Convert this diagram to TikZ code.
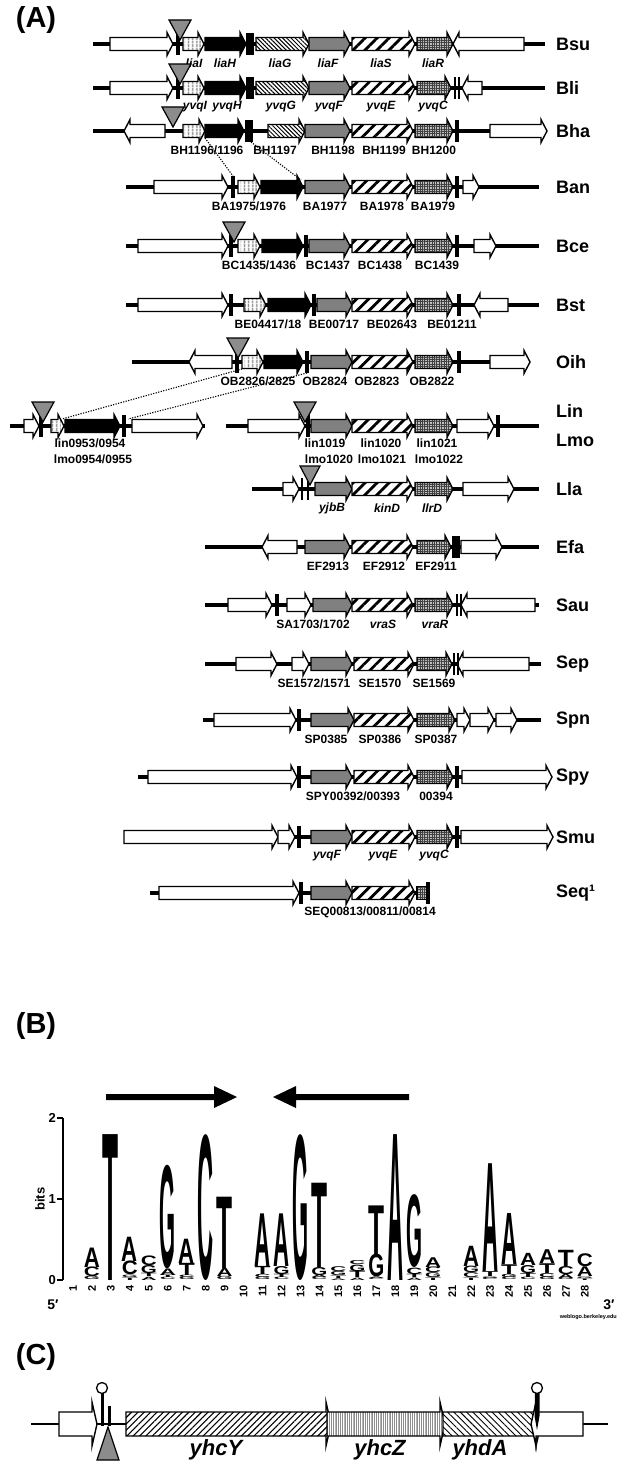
\documentclass[tikz,border=0pt]{standalone}
\usepackage{fontspec}
\setmainfont{Liberation Sans}
\usepackage{graphicx}
\usetikzlibrary{patterns.meta}

\newcounter{nd}
% gene arrow geometry: body half-height, head half-height, head length
\def\GB{6.5}\def\GH{11.5}\def\GL{6}

\newcommand\gR[4]{\path[gene,#4] (#1,{#3-\GB}) -- ({#2-\GL},{#3-\GB}) -- ({#2-\GL},{#3-\GH}) -- (#2,#3) -- ({#2-\GL},{#3+\GH}) -- ({#2-\GL},{#3+\GB}) -- (#1,{#3+\GB}) -- cycle;}
\newcommand\gL[4]{\path[gene,#4] (#2,{#3-\GB}) -- ({#1+\GL},{#3-\GB}) -- ({#1+\GL},{#3-\GH}) -- (#1,#3) -- ({#1+\GL},{#3+\GH}) -- ({#1+\GL},{#3+\GB}) -- (#2,{#3+\GB}) -- cycle;}
\newcommand\gB[4]{\path[gene,#4] (#1,{#3-\GB}) rectangle (#2,{#3+\GB});}
\newcommand\tbar[2]{\fill ({#1-1.6},{#2-11}) rectangle ({#1+1.6},{#2+11});}
\newcommand\tbarn[2]{\fill ({#1-1.1},{#2-11}) rectangle ({#1+1.1},{#2+11});}
\newcommand\tri[2]{\path[tri] ({#1-11},{#2-24}) -- ({#1+11},{#2-24}) -- (#1,{#2-4}) -- cycle;}
\newcommand\bb[3]{\draw[bbone] (#1,#3) -- (#2,#3);}
\newcommand\glab[3]{\stepcounter{nd}\node[glab] (t\arabic{nd}) at (#1,{#2+19}) {#3};}
\newcommand\glabi[3]{\stepcounter{nd}\node[glab,font=\fontsize{12}{14}\selectfont\bfseries\itshape] (t\arabic{nd}) at (#1,{#2+19}) {#3};}
\newcommand\spname[3]{\node[spl] (#1) at (556,#2) {#3};}

% sequence logo letters: position, bottom (bits), height (bits), letter
\def\ZB{1280}\def\BIT{81}
\newcommand\Lt[4]{%
  \pgfmathsetmacro\lx{73+18.96*(#1-1)}%
  \pgfmathsetmacro\ly{\ZB-\BIT*#2}%
  \pgfmathsetmacro\lh{\BIT*#3}%
  \stepcounter{nd}%
  \node[inner sep=0pt,outer sep=0pt,anchor=south] (lg\arabic{nd}) at (\lx,\ly) {\resizebox*{16pt}{\lh pt}{\bfseries #4}};}
\newcommand\Stk[2]{%
  \gdef\cum{0}%
  \foreach \ch/\hv in {#2}{%
    \Lt{#1}{\cum}{\hv}{\ch}%
    \pgfmathsetmacro\newcum{\cum+\hv}%
    \global\let\cum\newcum
  }}

\tikzset{
  gene/.style={draw=black,line width=1.4pt,line join=miter},
  gWht/.style={fill=white},
  gBlk/.style={fill=black},
  gGry/.style={fill=black!50},
  gStr/.style={preaction={fill=white},pattern={Lines[angle=90,distance=4pt,line width=1.5pt]},pattern color=black!55},
  gHat/.style={preaction={fill=white},pattern={Lines[angle=-45,distance=3pt,line width=1pt]},pattern color=black},
  gWid/.style={preaction={fill=white},pattern={Lines[angle=45,distance=8.5pt,line width=2.8pt]},pattern color=black},
  gDot/.style={preaction={fill=black!25},pattern={Hatch[distance=2.4pt,line width=0.8pt]},pattern color=black!75},
  cY/.style={preaction={fill=white},pattern={Lines[angle=45,distance=4.5pt,line width=1.1pt]},pattern color=black},
  cZ/.style={preaction={fill=white},pattern={Lines[angle=90,distance=1.8pt,line width=0.4pt]},pattern color=black!45},
  cA/.style={preaction={fill=white},pattern={Lines[angle=-45,distance=4.5pt,line width=0.9pt]},pattern color=black},
  tri/.style={draw=black,line width=1.2pt,fill=black!45,line join=miter},
  bbone/.style={line width=3.5pt},
  glab/.style={font=\fontsize{12}{14}\selectfont\bfseries,inner sep=0pt},
  spl/.style={font=\fontsize{18}{21}\selectfont\bfseries,anchor=west,inner sep=0pt},
  panel/.style={font=\fontsize{29}{33}\selectfont\bfseries,inner sep=0pt},
  dotln/.style={line width=1.1pt,dash pattern=on 1.2pt off 1.4pt},
  fat/.style={fill=black},
  num/.style={font=\fontsize{11}{12}\selectfont\bfseries,inner sep=0pt,rotate=90,anchor=east},
}

\def\yBsu{44}\def\yBli{88}\def\yBha{131}\def\yBan{187}\def\yBce{246}
\def\yBst{305}\def\yOih{362}\def\yLin{426}\def\yLla{489}\def\yEfa{547}
\def\ySau{605}\def\ySep{664}\def\ySpn{720}\def\ySpy{777}\def\ySmu{837}\def\ySeq{893}

\begin{document}
\begin{tikzpicture}[x=1pt,y=-1pt]
\useasboundingbox (0,0) rectangle (617,1461);
\fill[white] (0,0) rectangle (617,1461);

% ================= panel A =================
\node[panel] (lblA) at (36,20) {(A)};

% Bsu
\bb{93}{545}{\yBsu}
\gR{110}{173}{\yBsu}{gWht}
\gR{183}{204}{\yBsu}{gStr}
\gR{205}{246}{\yBsu}{gBlk}
\gR{256}{309}{\yBsu}{gHat}
\gR{309}{350}{\yBsu}{gGry}
\gR{352}{415}{\yBsu}{gWid}
\gR{417}{453}{\yBsu}{gDot}
\gL{453}{524}{\yBsu}{gWht}
\tbar{178}{\yBsu}\tbar{248}{\yBsu}\tbar{252}{\yBsu}
\tri{180}{\yBsu}
\glabi{194}{\yBsu}{liaI}\glabi{225}{\yBsu}{liaH}\glabi{280}{\yBsu}{liaG}
\glabi{328}{\yBsu}{liaF}\glabi{381}{\yBsu}{liaS}\glabi{433}{\yBsu}{liaR}
\spname{Bsu}{\yBsu}{Bsu}

% Bli
\bb{93}{545}{\yBli}
\gR{110}{173}{\yBli}{gWht}
\gR{183}{204}{\yBli}{gStr}
\gR{205}{246}{\yBli}{gBlk}
\gR{256}{309}{\yBli}{gHat}
\gR{309}{350}{\yBli}{gGry}
\gR{352}{415}{\yBli}{gWid}
\gR{417}{451}{\yBli}{gDot}
\gL{462}{482}{\yBli}{gWht}
\tbar{178}{\yBli}\tbar{248}{\yBli}\tbar{252}{\yBli}\tbarn{455}{\yBli}\tbarn{459}{\yBli}
\tri{180}{\yBli}
\glabi{195}{\yBli}{yvqI}\glabi{227}{\yBli}{yvqH}\glabi{281}{\yBli}{yvqG}
\glabi{329}{\yBli}{yvqF}\glabi{381}{\yBli}{yvqE}\glabi{433}{\yBli}{yvqC}
\spname{Bli}{\yBli}{Bli}

% Bha
\bb{93}{490}{\yBha}
\gL{124}{165}{\yBha}{gWht}
\gR{183}{205}{\yBha}{gStr}
\gR{205}{244}{\yBha}{gBlk}
\gR{268}{305}{\yBha}{gHat}
\gR{305}{350}{\yBha}{gGry}
\gR{352}{413}{\yBha}{gWid}
\gR{415}{453}{\yBha}{gDot}
\gR{490}{547}{\yBha}{gWht}
\tbar{247}{\yBha}\tbar{251}{\yBha}\tbar{457}{\yBha}
\tri{173}{\yBha}
\glab{207}{\yBha}{BH1196/1196}\glab{275}{\yBha}{BH1197}\glab{333}{\yBha}{BH1198}
\glab{384}{\yBha}{BH1199}\glab{434}{\yBha}{BH1200}
\spname{Bha}{\yBha}{Bha}

% Ban
\bb{126}{539}{\yBan}
\gR{154}{228}{\yBan}{gWht}
\gR{238}{260}{\yBan}{gStr}
\gR{261}{303}{\yBan}{gBlk}
\gR{305}{350}{\yBan}{gGry}
\gR{352}{413}{\yBan}{gWid}
\gR{415}{453}{\yBan}{gDot}
\gR{463}{479}{\yBan}{gWht}
\tbar{233}{\yBan}\tbar{457}{\yBan}
\glab{249}{\yBan}{BA1975/1976}\glab{325}{\yBan}{BA1977}
\glab{382}{\yBan}{BA1978}\glab{433}{\yBan}{BA1979}
\spname{Ban}{\yBan}{Ban}

\coordinate (bhaA) at (205,{\yBha+7});
\coordinate (banA) at (233,{\yBan-11});
\coordinate (bhaB) at (251,{\yBha+11});
\coordinate (banB) at (301,{\yBan-7});
\draw[dotln] (bhaA) -- (banA);
\draw[dotln] (bhaB) -- (banB);

% Bce
\bb{126}{539}{\yBce}
\gR{138}{228}{\yBce}{gWht}
\gR{238}{260}{\yBce}{gStr}
\gR{262}{303}{\yBce}{gBlk}
\gR{309}{350}{\yBce}{gGry}
\gR{352}{413}{\yBce}{gWid}
\gR{415}{453}{\yBce}{gDot}
\gR{474}{496}{\yBce}{gWht}
\tbar{231}{\yBce}\tbar{306}{\yBce}\tbar{457}{\yBce}
\tri{234}{\yBce}
\glab{259}{\yBce}{BC1435/1436}\glab{328}{\yBce}{BC1437}
\glab{380}{\yBce}{BC1438}\glab{437}{\yBce}{BC1439}
\spname{Bce}{\yBce}{Bce}

% Bst
\bb{126}{539}{\yBst}
\gR{138}{228}{\yBst}{gWht}
\gR{244}{266}{\yBst}{gStr}
\gR{268}{311}{\yBst}{gBlk}
\gR{317}{352}{\yBst}{gGry}
\gR{352}{413}{\yBst}{gWid}
\gR{415}{453}{\yBst}{gDot}
\gL{474}{508}{\yBst}{gWht}
\tbar{231}{\yBst}\tbar{314}{\yBst}\tbar{459}{\yBst}
\glab{268}{\yBst}{BE04417/18}\glab{334}{\yBst}{BE00717}
\glab{392}{\yBst}{BE02643}\glab{452}{\yBst}{BE01211}
\spname{Bst}{\yBst}{Bst}

% Oih
\bb{132}{490}{\yOih}
\gL{189}{232}{\yOih}{gWht}
\gR{242}{263}{\yOih}{gStr}
\gR{264}{303}{\yOih}{gBlk}
\gR{311}{352}{\yOih}{gGry}
\gR{352}{413}{\yOih}{gWid}
\gR{415}{453}{\yOih}{gDot}
\gR{490}{530}{\yOih}{gWht}
\tbar{237}{\yOih}\tbar{307}{\yOih}\tbar{459}{\yOih}
\tri{238}{\yOih}
\glab{258}{\yOih}{OB2826/2825}\glab{325}{\yOih}{OB2824}
\glab{377}{\yOih}{OB2823}\glab{432}{\yOih}{OB2822}
\spname{Oih}{\yOih}{Oih}

% Lin / Lmo, left locus
\bb{10}{205}{\yLin}
\gR{24}{39}{\yLin}{gWht}
\gR{51}{64}{\yLin}{gStr}
\gR{65}{120}{\yLin}{gBlk}
\gR{132}{203}{\yLin}{gWht}
\tbar{41}{\yLin}\tbar{124}{\yLin}
\tri{43}{\yLin}
\stepcounter{nd}\node[glab] (t\arabic{nd}) at (90,{\yLin+17}) {lin0953/0954};
\stepcounter{nd}\node[glab] (t\arabic{nd}) at (93,{\yLin+33}) {lmo0954/0955};

% Lin / Lmo, right locus
\bb{226}{539}{\yLin}
\gR{248}{305}{\yLin}{gWht}
\gR{311}{352}{\yLin}{gGry}
\gR{352}{413}{\yLin}{gWid}
\gR{415}{453}{\yLin}{gDot}
\gR{457}{494}{\yLin}{gWht}
\tbar{308}{\yLin}\tbar{498}{\yLin}
\tri{305}{\yLin}
\stepcounter{nd}\node[glab] (t\arabic{nd}) at (325,{\yLin+17}) {lin1019};
\stepcounter{nd}\node[glab] (t\arabic{nd}) at (381,{\yLin+17}) {lin1020};
\stepcounter{nd}\node[glab] (t\arabic{nd}) at (437,{\yLin+17}) {lin1021};
\stepcounter{nd}\node[glab] (t\arabic{nd}) at (329,{\yLin+33}) {lmo1020};
\stepcounter{nd}\node[glab] (t\arabic{nd}) at (382,{\yLin+33}) {lmo1021};
\stepcounter{nd}\node[glab] (t\arabic{nd}) at (439,{\yLin+33}) {lmo1022};
\node[spl] (Lin) at (556,{\yLin-15}) {Lin};
\node[spl] (Lmo) at (556,{\yLin+14}) {Lmo};

\coordinate (oihA) at (242,{\yOih+7});
\coordinate (linA) at (62,{\yLin-7});
\coordinate (oihB) at (307,{\yOih+11});
\coordinate (linB) at (128,{\yLin-7});
\draw[dotln] (oihA) -- (linA);
\draw[dotln] (oihB) -- (linB);

% Lla
\bb{252}{539}{\yLla}
\gR{283}{299}{\yLla}{gWht}
\gR{315}{352}{\yLla}{gGry}
\gR{352}{413}{\yLla}{gWid}
\gR{415}{453}{\yLla}{gDot}
\gR{463}{514}{\yLla}{gWht}
\tbarn{302}{\yLla}\tbarn{308}{\yLla}
\path[tri] (300,{\yLla-23}) -- (320,{\yLla-23}) -- (310,{\yLla-4}) -- cycle;
\glabi{332}{\yLla}{yjbB}\glabi{387}{\yLla}{kinD}\glabi{432}{\yLla}{llrD}
\spname{Lla}{\yLla}{Lla}

% Efa
\bb{205}{539}{\yEfa}
\gL{262}{297}{\yEfa}{gWht}
\gR{305}{350}{\yEfa}{gGry}
\gR{352}{413}{\yEfa}{gWid}
\gR{417}{451}{\yEfa}{gDot}
\gR{461}{502}{\yEfa}{gWht}
\tbar{454}{\yEfa}\tbar{458}{\yEfa}
\glab{328}{\yEfa}{EF2913}\glab{384}{\yEfa}{EF2912}\glab{436}{\yEfa}{EF2911}
\spname{Efa}{\yEfa}{Efa}

% Sau
\bb{205}{539}{\ySau}
\gR{228}{272}{\ySau}{gWht}
\gR{287}{311}{\ySau}{gWht}
\gR{313}{352}{\ySau}{gGry}
\gR{352}{413}{\ySau}{gWid}
\gR{415}{453}{\ySau}{gDot}
\gL{461}{535}{\ySau}{gWht}
\tbar{277}{\ySau}\tbarn{457}{\ySau}\tbarn{461}{\ySau}
\glab{313}{\ySau}{SA1703/1702}\glabi{383}{\ySau}{vraS}\glabi{435}{\ySau}{vraR}
\spname{Sau}{\ySau}{Sau}

% Sep
\bb{205}{541}{\ySep}
\gR{236}{277}{\ySep}{gWht}
\gR{292}{309}{\ySep}{gWht}
\gR{311}{352}{\ySep}{gGry}
\gR{354}{414}{\ySep}{gWid}
\gR{417}{452}{\ySep}{gDot}
\gL{457}{529}{\ySep}{gWht}
\tbarn{454}{\ySep}\tbarn{458}{\ySep}
\glab{314}{\ySep}{SE1572/1571}\glab{380}{\ySep}{SE1570}\glab{434}{\ySep}{SE1569}
\spname{Sep}{\ySep}{Sep}

% Spn
\bb{203}{541}{\ySpn}
\gR{214}{296}{\ySpn}{gWht}
\gR{311}{354}{\ySpn}{gGry}
\gR{354}{414}{\ySpn}{gWid}
\gR{417}{455}{\ySpn}{gDot}
\gR{457}{470}{\ySpn}{gWht}
\gR{470}{494}{\ySpn}{gWht}
\gR{496}{517}{\ySpn}{gWht}
\tbar{299}{\ySpn}
\glab{326}{\ySpn}{SP0385}\glab{380}{\ySpn}{SP0386}\glab{436}{\ySpn}{SP0387}
\spname{Spn}{\ySpn}{Spn}

% Spy
\bb{138}{548}{\ySpy}
\gR{148}{297}{\ySpy}{gWht}
\gR{311}{352}{\ySpy}{gGry}
\gR{354}{414}{\ySpy}{gWid}
\gR{417}{453}{\ySpy}{gDot}
\gR{462}{552}{\ySpy}{gWht}
\tbar{299}{\ySpy}\tbar{457}{\ySpy}
\glab{353}{\ySpy}{SPY00392/00393}\glab{436}{\ySpy}{00394}
\spname{Spy}{\ySpy}{Spy}

% Smu
\bb{124}{550}{\ySmu}
\gR{124}{278}{\ySmu}{gWht}
\gR{278}{295}{\ySmu}{gWht}
\gR{311}{352}{\ySmu}{gGry}
\gR{352}{415}{\ySmu}{gWid}
\gR{417}{453}{\ySmu}{gDot}
\gR{461}{553}{\ySmu}{gWht}
\tbar{299}{\ySmu}\tbar{457}{\ySmu}
\glabi{327}{\ySmu}{yvqF}\glabi{383}{\ySmu}{yvqE}\glabi{434}{\ySmu}{yvqC}
\spname{Smu}{\ySmu}{Smu}

% Seq
\bb{150}{427}{\ySeq}
\gR{159}{299}{\ySeq}{gWht}
\gR{311}{352}{\ySeq}{gGry}
\gR{352}{415}{\ySeq}{gWid}
\gB{417}{427}{\ySeq}{gDot}
\tbar{301}{\ySeq}\tbar{428}{\ySeq}
\glab{370}{\ySeq}{SEQ00813/00811/00814}
\spname{Seq}{\ySeq}{Seq¹}

% ================= panel B =================
\node[panel] (lblB) at (36,1026) {(B)};
\path[fat] (106,1094) -- (214,1094) -- (214,1086) -- (237,1097) -- (214,1108) -- (214,1100) -- (106,1100) -- cycle;
\path[fat] (409,1094) -- (296,1094) -- (296,1086) -- (273,1097) -- (296,1108) -- (296,1100) -- (409,1100) -- cycle;

% axis
\draw[line width=1.2pt] (63,1118) -- (63,\ZB);
\foreach \b/\yy in {2/1118,1/1199,0/1280}{
  \draw[line width=1.2pt] (57,\yy) -- (63,\yy);
  \node[font=\fontsize{13}{14}\selectfont\bfseries,anchor=east,inner sep=0pt] (ax\b) at (56,\yy) {\b};
}
\node[font=\fontsize{13}{14}\selectfont\bfseries,rotate=90,inner sep=0pt] (bits) at (40,1199) {bits};
\foreach \i in {1,...,28}{
  \node[num] (n\i) at ({73+18.96*(\i-1)},1285) {\i};
}
\node[font=\fontsize{14}{15}\selectfont\bfseries,inner sep=0pt] (five) at (53,1305) {5′};
\node[font=\fontsize{14}{15}\selectfont\bfseries,inner sep=0pt] (three) at (609,1305) {3′};
\node[font=\fontsize{5.5}{6}\selectfont\bfseries,anchor=east,inner sep=0pt] (wl) at (617,1317) {weblogo.berkeley.edu};

% stacked letters, bottom to top
\Stk{2}{G/0.04,C/0.12,A/0.24}
\Stk{3}{T/1.8}
\Stk{4}{T/0.03,G/0.03,C/0.17,A/0.3}
\Stk{5}{A/0.04,T/0.04,G/0.1,C/0.12}
\Stk{6}{C/0.03,T/0.03,A/0.08,G/1.28}
\Stk{7}{G/0.03,C/0.03,T/0.15,A/0.3}
\Stk{8}{C/1.8}
\Stk{9}{G/0.04,A/0.1,T/0.88}
\Stk{11}{G/0.03,C/0.04,T/0.1,A/0.65}
\Stk{12}{C/0.03,T/0.04,G/0.1,A/0.65}
\Stk{13}{G/1.8}
\Stk{14}{C/0.03,A/0.03,G/0.1,T/1.04}
\Stk{15}{A/0.02,T/0.03,G/0.05,C/0.06}
\Stk{16}{A/0.03,T/0.08,G/0.08,C/0.05}
\Stk{17}{C/0.02,A/0.02,G/0.28,T/0.6}
\Stk{18}{A/1.8}
\Stk{19}{A/0.03,T/0.04,C/0.08,G/0.9}
\Stk{20}{T/0.03,G/0.06,C/0.07,A/0.12}
\Stk{22}{T/0.03,C/0.06,G/0.08,A/0.25}
\Stk{23}{C/0.02,G/0.02,T/0.06,A/1.33}
\Stk{24}{C/0.03,G/0.04,T/0.12,A/0.63}
\Stk{25}{C/0.03,T/0.05,G/0.1,A/0.15}
\Stk{26}{G/0.03,C/0.05,T/0.12,A/0.17}
\Stk{27}{G/0.02,A/0.05,C/0.1,T/0.2}
\Stk{28}{T/0.02,G/0.02,A/0.12,C/0.16}

% ================= panel C =================
\node[panel] (lblC) at (36,1357) {(C)};
\def\yC{1424}
\def\GB{12}\def\GH{22}\def\GL{5}
\draw[line width=1.6pt] (31,\yC) -- (608,\yC);
\gR{59}{97}{\yC}{gWht}
\gR{126}{331}{\yC}{cY}
\gR{327}{445}{\yC}{cZ}
\gR{443}{541}{\yC}{cA}
\gL{531}{583}{\yC}{gWht}
% terminator hairpins
\draw[line width=3pt] (102,1393) -- (102,1426);
\draw[line width=1.3pt,fill=white] (102,1388) circle (5.5);
\fill (107.5,1406) rectangle (111,1426);
\fill (535,1393) -- (539.5,1393) -- (539.5,1416) -- (537,1430) -- (534.5,1416) -- cycle;
\draw[line width=1.3pt,fill=white] (537,1388) circle (5.5);
% insertion site
\path[tri] (108,1427) -- (119,1460) -- (97,1460) -- cycle;
\node[font=\fontsize{22}{24}\selectfont\bfseries\itshape,inner sep=0pt] (yhcY) at (216,1450) {yhcY};
\node[font=\fontsize{22}{24}\selectfont\bfseries\itshape,inner sep=0pt] (yhcZ) at (380,1450) {yhcZ};
\node[font=\fontsize{22}{24}\selectfont\bfseries\itshape,inner sep=0pt] (yhdA) at (480,1450) {yhdA};
\end{tikzpicture}
\end{document}
